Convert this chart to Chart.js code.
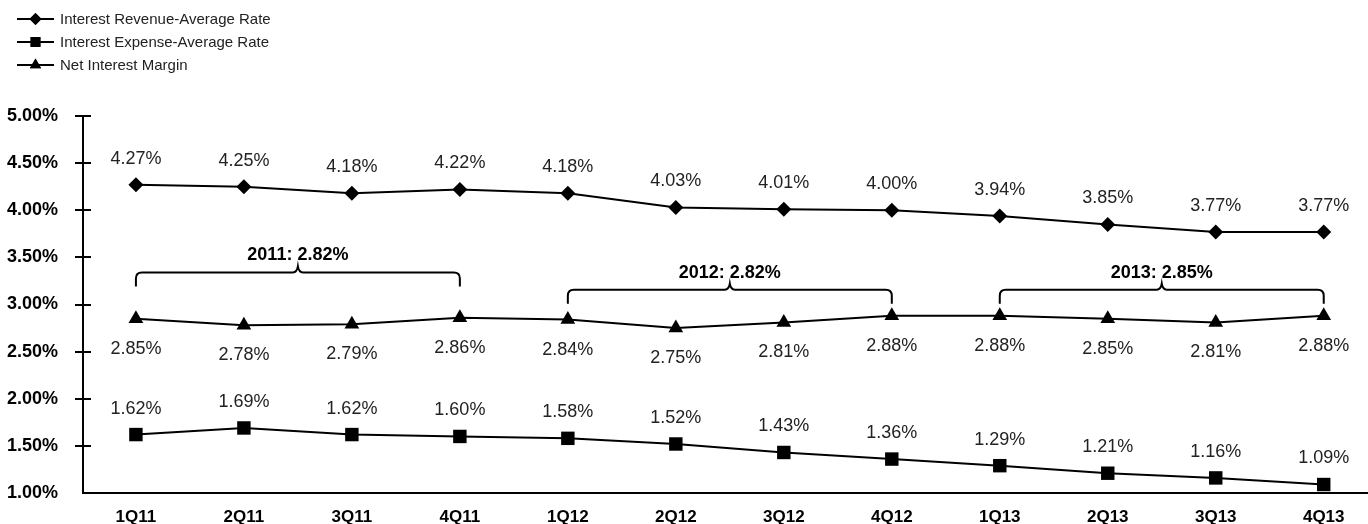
<!DOCTYPE html>
<html>
<head>
<meta charset="utf-8">
<script src="https://cdn.jsdelivr.net/npm/chart.js@4"></script>
<style>
  html, body { margin: 0; padding: 0; background: #fff; overflow: hidden; }
  canvas { display: block; }
</style>
</head>
<body>
<canvas id="lineChart" width="1368" height="524"></canvas>
<script>
var quarters = ['1Q11', '2Q11', '3Q11', '4Q11', '1Q12', '2Q12', '3Q12', '4Q12', '1Q13', '2Q13', '3Q13', '4Q13'];
var revenueRate = [4.27, 4.25, 4.18, 4.22, 4.18, 4.03, 4.01, 4.00, 3.94, 3.85, 3.77, 3.77];
var expenseRate = [1.62, 1.69, 1.62, 1.60, 1.58, 1.52, 1.43, 1.36, 1.29, 1.21, 1.16, 1.09];
var netMargin = [2.85, 2.78, 2.79, 2.86, 2.84, 2.75, 2.81, 2.88, 2.88, 2.85, 2.81, 2.88];

// yearly averages of the margin, bracketed over their quarters
var yearLabels = ['2011: 2.82%', '2012: 2.82%', '2013: 2.85%'];
var yearFirst = [0, 4, 8];
var yearLast = [3, 7, 11];
var yearBraceLevel = [3.34, 3.157, 3.157];

var FONT = "'Liberation Sans', Arial, sans-serif";

function points(values) {
  return values.map(function (v, i) { return { x: i, y: v }; });
}

function fmt(v) { return v.toFixed(2) + '%'; }

// value labels: above for revenue/expense, below for the margin
var valueLabels = {
  id: 'valueLabels',
  afterDatasetsDraw: function (chart) {
    var ctx = chart.ctx;
    ctx.save();
    ctx.font = '18px ' + FONT;
    ctx.fillStyle = '#222';
    ctx.textAlign = 'center';
    ctx.textBaseline = 'middle';
    chart.data.datasets.forEach(function (ds, di) {
      var meta = chart.getDatasetMeta(di);
      var below = ds.labelBelow;
      meta.data.forEach(function (pt, i) {
        var y = below ? pt.y + 30 : pt.y - 26;
        ctx.fillText(fmt(ds.data[i].y), pt.x, y);
      });
    });
    ctx.restore();
  }
};

// curly brackets over each year with the average
var yearBraces = {
  id: 'yearBraces',
  afterDatasetsDraw: function (chart) {
    var ctx = chart.ctx;
    var xs = chart.scales.x, ys = chart.scales.y;
    ctx.save();
    ctx.strokeStyle = '#000';
    ctx.lineWidth = 2;
    ctx.font = 'bold 18px ' + FONT;
    ctx.fillStyle = '#000';
    ctx.textAlign = 'center';
    ctx.textBaseline = 'middle';
    yearLabels.forEach(function (label, k) {
      var x1 = xs.getPixelForValue(yearFirst[k]);
      var x2 = xs.getPixelForValue(yearLast[k]);
      var xm = (x1 + x2) / 2;
      var y = ys.getPixelForValue(yearBraceLevel[k]);
      ctx.beginPath();
      ctx.moveTo(x1, y + 14);
      ctx.lineTo(x1, y + 6);
      ctx.quadraticCurveTo(x1, y, x1 + 6, y);
      ctx.lineTo(xm - 5, y);
      ctx.quadraticCurveTo(xm - 1, y, xm, y - 6);
      ctx.quadraticCurveTo(xm + 1, y, xm + 5, y);
      ctx.lineTo(x2 - 6, y);
      ctx.quadraticCurveTo(x2, y, x2, y + 6);
      ctx.lineTo(x2, y + 14);
      ctx.stroke();
      ctx.fillText(label, xm, y - 17);
    });
    ctx.restore();
  }
};

// tick marks crossing the value axis
var axisTicks = {
  id: 'axisTicks',
  afterDraw: function (chart) {
    var ctx = chart.ctx;
    var ys = chart.scales.y;
    var x0 = chart.chartArea.left;
    ctx.save();
    ctx.strokeStyle = '#000';
    ctx.lineWidth = 2;
    ys.ticks.forEach(function (t) {
      if (t.value <= ys.min) return;
      var y = Math.round(ys.getPixelForValue(t.value));
      ctx.beginPath();
      ctx.moveTo(x0 - 8, y);
      ctx.lineTo(x0 + 8, y);
      ctx.stroke();
    });
    ctx.beginPath();
    ctx.moveTo(x0, chart.chartArea.bottom);
    ctx.lineTo(x0, ys.getPixelForValue(ys.max));
    ctx.stroke();
    ctx.restore();
  }
};

// stacked legend in the top-left corner
var sideLegend = {
  id: 'sideLegend',
  afterDraw: function (chart) {
    var ctx = chart.ctx;
    ctx.save();
    chart.data.datasets.forEach(function (ds, i) {
      var y = 19 + i * 23;
      ctx.strokeStyle = '#000';
      ctx.lineWidth = 2;
      ctx.beginPath();
      ctx.moveTo(17, y);
      ctx.lineTo(54, y);
      ctx.stroke();
      Chart.helpers.drawPoint(ctx, {
        pointStyle: ds.pointStyle,
        radius: ds.legendRadius,
        borderWidth: 0,
        rotation: 0
      }, 35.5, y);
      ctx.fillStyle = '#000';
      ctx.fill();
      ctx.font = '15px ' + FONT;
      ctx.fillStyle = '#222';
      ctx.textAlign = 'left';
      ctx.textBaseline = 'middle';
      ctx.fillText(ds.label, 60, y + 1);
    });
    ctx.restore();
  }
};

function series(label, values, style, radius, legendRadius, below) {
  return {
    label: label,
    data: points(values),
    borderColor: '#000',
    backgroundColor: '#000',
    borderWidth: 2,
    pointStyle: style,
    pointRadius: radius,
    pointBackgroundColor: '#000',
    pointBorderColor: '#000',
    pointBorderWidth: 0,
    tension: 0,
    fill: false,
    clip: false,
    legendRadius: legendRadius,
    labelBelow: below
  };
}

var ctx = document.getElementById('lineChart').getContext('2d');
var chart = new Chart(ctx, {
  type: 'line',
  data: {
    datasets: [
      series('Interest Revenue-Average Rate', revenueRate, 'rectRot', 7.5, 6, false),
      series('Interest Expense-Average Rate', expenseRate, 'rect', 9.5, 7, false),
      series('Net Interest Margin', netMargin, 'triangle', 8.5, 6.5, true)
    ]
  },
  options: {
    responsive: false,
    animation: false,
    layout: { autoPadding: false, padding: { top: 116, right: 0, bottom: 0, left: 0 } },
    plugins: {
      legend: { display: false },
      tooltip: { enabled: false }
    },
    scales: {
      x: {
        type: 'linear',
        min: -0.49,
        max: 11.41,
        afterBuildTicks: function (scale) {
          scale.ticks = quarters.map(function (q, i) { return { value: i }; });
        },
        afterFit: function (scale) { scale.height = 31; },
        grid: { display: false },
        border: { display: true, color: '#000', width: 2 },
        ticks: {
          autoSkip: false,
          maxRotation: 0,
          padding: 6,
          color: '#000',
          font: { family: FONT, size: 17, weight: 'bold' },
          callback: function (v) { return quarters[v]; }
        }
      },
      y: {
        min: 1,
        max: 5,
        afterFit: function (scale) { scale.width = 83; },
        grid: { display: false },
        border: { display: false },
        ticks: {
          stepSize: 0.5,
          padding: 17,
          color: '#000',
          font: { family: FONT, size: 18, weight: 'bold' },
          callback: function (v) { return fmt(v); }
        }
      }
    }
  },
  plugins: [valueLabels, yearBraces, axisTicks, sideLegend]
});
</script>
</body>
</html>
